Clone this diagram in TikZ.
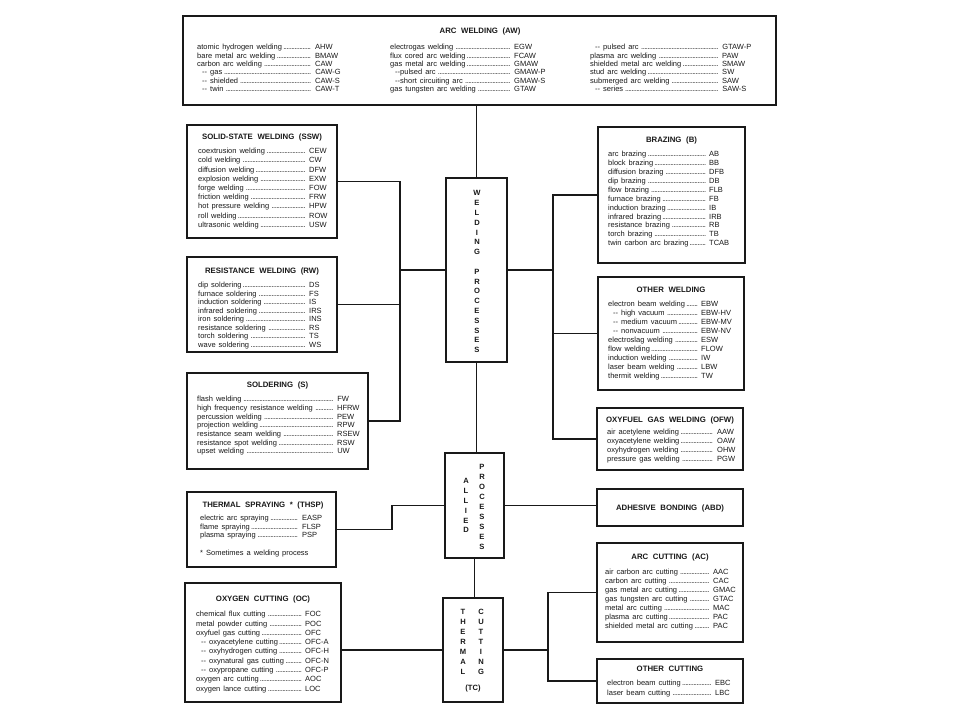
\documentclass[tikz,border=0pt]{standalone}
\usepackage{fontspec}
\setmainfont{Liberation Sans}
\newcommand\dotlead{\leaders\hbox to 1.6pt{\hss.\hss}\hfill}
\newcommand\entfont{\fontsize{7.5}{8}\selectfont\spaceskip=3pt plus 1pt\relax}
\newcommand\ttlfont{\fontsize{7.8}{8}\selectfont\bfseries\spaceskip=4.6pt plus 1pt\relax}
\newcommand\letfont{\fontsize{7.6}{8}\selectfont\bfseries}
\newcommand\ind{\hspace*{5pt}-{}- }
\newcommand\indn{\hspace*{5pt}-{}-}
\newcommand\entrylist[6]{%
  \foreach \nm/\ab [count=\i] in {#6}{%
    \node[ent] (#1\i) at (#2,{#4+(\i-1)*#5}) {\makebox[#3pt][l]{\nm\,\dotlead}\hspace{3pt}\ab};}}
\newcommand\boxat[5]{\node[bx, minimum width=#4pt, minimum height=#5pt] (#1) at (#2,#3) {};}
\newcommand\vstack[5]{%
  \foreach \lt [count=\i] in {#5}{%
    \node[vlet] (#1\i) at (#2,{#3+(\i-1)*#4}) {\lt};}}
\begin{document}
\begin{tikzpicture}[x=1pt,y=-1pt,
  bx/.style={draw=black!90, line width=1.4pt, anchor=north west, inner sep=0pt, outer sep=0pt},
  conn/.style={draw=black!90, line width=1.4pt},
  ent/.style={anchor=base west, inner sep=0pt, font=\entfont, text=black!90},
  ttl/.style={anchor=base, inner sep=0pt, font=\ttlfont, text=black!90},
  vlet/.style={anchor=base, inner sep=0pt, font=\letfont, text=black!90}]
\useasboundingbox[fill=white] (0,0) rectangle (960,720);
% boxes
\boxat{arc}{183}{16}{593}{89}
\boxat{ssw}{187}{125}{150}{113}
\boxat{rw}{187}{257}{150}{95}
\boxat{sol}{187}{373}{181}{96}
\boxat{thsp}{187}{492}{149}{75}
\boxat{oc}{185}{583}{156}{119}
\boxat{wp}{446}{178}{61}{184}
\boxat{ap}{445}{453}{59}{105}
\boxat{tc}{443}{598}{60}{104}
\boxat{brz}{598}{127}{147}{136}
\boxat{ow}{598}{277}{146}{113}
\boxat{ofw}{597}{408}{146}{62}
\boxat{abd}{597}{489}{146}{37}
\boxat{ac}{597}{543}{146}{99}
\boxat{ocut}{597}{659}{146}{44}
% bus coordinates
\coordinate (lbx) at (400,0);
\coordinate (rbx) at (553,0);
\coordinate (tbx) at (392,0);
\coordinate (cbx) at (548,0);
% connectors
\draw[conn] (wp.north) -- (wp.north |- arc.south);
\draw[conn] (ssw.east) -- (ssw.east -| lbx) -- (sol.east -| lbx) -- (sol.east);
\draw[conn] (rw.east) -- (rw.east -| lbx);
\draw[conn] (wp.west) -- (wp.west -| lbx);
\draw[conn] (brz.west) -- (brz.west -| rbx) -- (ofw.west -| rbx) -- (ofw.west);
\draw[conn] (ow.west) -- (ow.west -| rbx);
\draw[conn] (wp.east) -- (wp.east -| rbx);
\draw[conn] (wp.south) -- (wp.south |- ap.north);
\draw[conn] (ap.west) -- (ap.west -| tbx) -- (thsp.east -| tbx) -- (thsp.east);
\draw[conn] (ap.east) -- (ap.east -| abd.west);
\draw[conn] (ap.south) -- (ap.south |- tc.north);
\draw[conn] (tc.west) -- (tc.west -| oc.east);
\draw[conn] (tc.east) -- (tc.east -| cbx);
\draw[conn] (ac.west) -- (ac.west -| cbx) -- (ocut.west -| cbx) -- (ocut.west);
% titles
\node[ttl] (arcT) at (480,33.9) {ARC WELDING (AW)};
\node[ttl] (sswT) at (262,139.9) {SOLID-STATE WELDING (SSW)};
\node[ttl] (rwT) at (262,273.9) {RESISTANCE WELDING (RW)};
\node[ttl] (solT) at (277.5,387.9) {SOLDERING (S)};
\node[ttl] (thspT) at (263,507.9) {THERMAL SPRAYING * (THSP)};
\node[ttl] (ocT) at (263,601.9) {OXYGEN CUTTING (OC)};
\node[ttl] (brzT) at (671.5,142.9) {BRAZING (B)};
\node[ttl] (owT) at (671,292.9) {OTHER WELDING};
\node[ttl] (ofwT) at (670,422.9) {OXYFUEL GAS WELDING (OFW)};
\node[ttl] (abdT) at (670,510.4) {ADHESIVE BONDING (ABD)};
\node[ttl] (acT) at (670,559.9) {ARC CUTTING (AC)};
\node[ttl] (ocutT) at (670,671.9) {OTHER CUTTING};
% entries
\entrylist{arcA}{197}{115}{49.7}{8.4}{atomic hydrogen welding/AHW, bare metal arc welding/BMAW, carbon arc welding/CAW, \ind gas/CAW-G, \ind shielded/CAW-S, \ind twin/CAW-T}
\entrylist{arcB}{390}{121}{49.7}{8.4}{electrogas welding/EGW, flux cored arc welding/FCAW, gas metal arc welding/GMAW, \indn pulsed arc/GMAW-P, \indn short circuiting arc/GMAW-S, gas tungsten arc welding/GTAW}
\entrylist{arcC}{590}{129}{49.7}{8.4}{\ind pulsed arc/GTAW-P, plasma arc welding/PAW, shielded metal arc welding/SMAW, stud arc welding/SW, submerged arc welding/SAW, \ind series/SAW-S}
\entrylist{sswE}{198}{108}{153.7}{9.2}{coextrusion welding/CEW, cold welding/CW, diffusion welding/DFW, explosion welding/EXW, forge welding/FOW, friction welding/FRW, hot pressure welding/HPW, roll welding/ROW, ultrasonic welding/USW}
\entrylist{rwE}{198}{108}{287.7}{8.5}{dip soldering/DS, furnace soldering/FS, induction soldering/IS, infrared soldering/IRS, iron soldering/INS, resistance soldering/RS, torch soldering/TS, wave soldering/WS}
\entrylist{solE}{197}{137}{401.7}{8.7}{flash welding/FW, high frequency resistance welding/HFRW, percussion welding/PEW, projection welding/RPW, resistance seam welding/RSEW, resistance spot welding/RSW, upset welding/UW}
\entrylist{thspE}{200}{99}{520.7}{8.5}{electric arc spraying/EASP, flame spraying/FLSP, plasma spraying/PSP}
\node[ent] (thspN) at (200,555.7) {* Sometimes a welding process};
\entrylist{ocE}{196}{106}{616.7}{9.3}{chemical flux cutting/FOC, metal powder cutting/POC, oxyfuel gas cutting/OFC, \ind oxyacetylene cutting/OFC-A, \ind oxyhydrogen cutting/OFC-H, \ind oxynatural gas cutting/OFC-N, \ind oxypropane cutting/OFC-P, oxygen arc cutting/AOC, oxygen lance cutting/LOC}
\entrylist{brzE}{608}{98}{156.7}{8.9}{arc brazing/AB, block brazing/BB, diffusion brazing/DFB, dip brazing/DB, flow brazing/FLB, furnace brazing/FB, induction brazing/IB, infrared brazing/IRB, resistance brazing/RB, torch brazing/TB, twin carbon arc brazing/TCAB}
\entrylist{owE}{608}{90}{306.7}{9}{electron beam welding/EBW, \ind high vacuum/EBW-HV, \ind medium vacuum/EBW-MV, \ind nonvacuum/EBW-NV, electroslag welding/ESW, flow welding/FLOW, induction welding/IW, laser beam welding/LBW, thermit welding/TW}
\entrylist{ofwE}{607}{107}{434.7}{9}{air acetylene welding/AAW, oxyacetylene welding/OAW, oxyhydrogen welding/OHW, pressure gas welding/PGW}
\entrylist{acE}{605}{105}{574.7}{9}{air carbon arc cutting/AAC, carbon arc cutting/CAC, gas metal arc cutting/GMAC, gas tungsten arc cutting/GTAC, metal arc cutting/MAC, plasma arc cutting/PAC, shielded metal arc cutting/PAC}
\entrylist{ocutE}{607}{105}{685.7}{10}{electron beam cutting/EBC, laser beam cutting/LBC}
% vertical letters
\vstack{wpW}{477}{195.8}{9.8}{W,E,L,D,I,N,G}
\vstack{wpP}{477}{274.2}{9.8}{P,R,O,C,E,S,S,E,S}
\vstack{apA}{466}{483.8}{9.8}{A,L,L,I,E,D}
\vstack{apP}{482}{469.8}{9.9}{P,R,O,C,E,S,S,E,S}
\vstack{tcT}{463}{614.8}{10}{T,H,E,R,M,A,L}
\vstack{tcC}{481}{614.8}{10}{C,U,T,T,I,N,G}
\node[vlet] (tcTC) at (473,690.8) {(TC)};
\end{tikzpicture}
\end{document}
